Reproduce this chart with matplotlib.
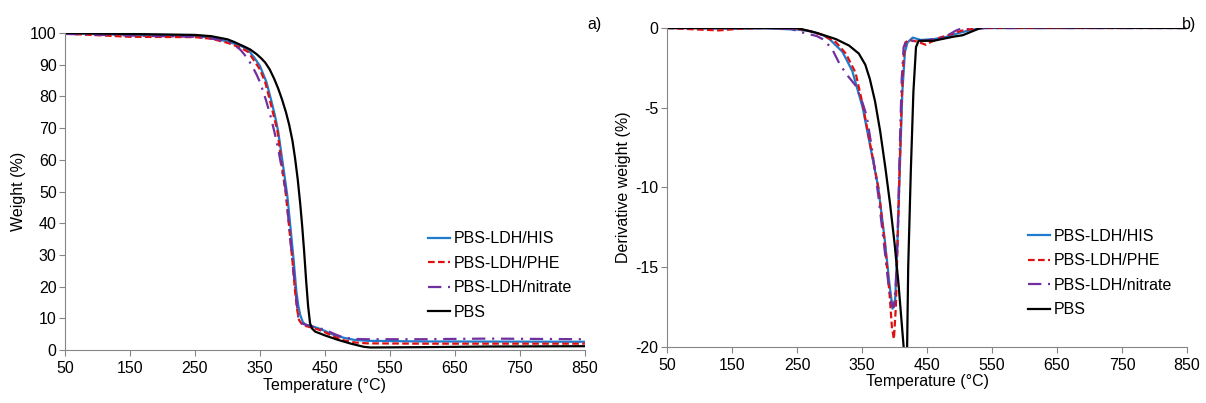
import matplotlib
matplotlib.use("Agg")
from matplotlib import pyplot as plt

plt.rcParams['font.family'] = ['Liberation Sans', 'DejaVu Sans']
plt.rcParams['axes.unicode_minus'] = False

# 图例名称
labels = ["PBS-LDH/HIS", "PBS-LDH/PHE", "PBS-LDH/nitrate", "PBS"]
colors = ["#1f7bcc", "#e01010", "#7030a0", "#000000"]
styles = ["-", (0, (3, 1.5)), (0, (6, 3, 1, 3)), "-"]

# a) TGA 曲线 (温度, 重量%)
tga_his_t = [50, 150, 250, 275, 300, 320, 332, 342, 350, 360, 367, 373, 378, 385, 392, 397, 402, 406, 409, 412, 416, 420, 438, 450, 462, 480, 495, 515, 600, 850]
tga_his_w = [99.9, 99.4, 99.0, 98.6, 97.3, 96.0, 94.7, 92.0, 89.6, 84.5, 79.0, 74.0, 69.0, 59.0, 48.8, 38.6, 28.0, 18.5, 14.0, 11.0, 8.8, 8.0, 7.0, 6.0, 4.9, 3.8, 3.2, 2.9, 2.7, 2.6]

tga_phe_t = [50, 150, 250, 275, 300, 320, 332, 342, 350, 358, 365, 371, 377, 383, 390, 395, 400, 404, 407, 410, 414, 420, 438, 450, 462, 480, 495, 515, 600, 850]
tga_phe_w = [99.8, 98.8, 98.7, 98.2, 96.9, 95.4, 94.0, 91.0, 88.5, 84.5, 79.0, 74.0, 69.0, 59.0, 48.8, 38.6, 28.0, 18.5, 13.0, 9.5, 8.3, 7.6, 6.6, 5.6, 4.4, 3.0, 2.4, 2.1, 2.0, 2.0]

tga_nit_t = [50, 150, 250, 275, 290, 303, 312, 320, 330, 338, 345, 350, 359, 366, 372, 378, 382, 386, 390, 393, 396, 400, 405, 409, 413, 420, 435, 450, 465, 479, 495, 515, 600, 700, 850]
tga_nit_w = [99.7, 99.2, 98.8, 98.2, 97.8, 97.2, 96.0, 94.7, 92.2, 89.6, 86.8, 84.5, 79.0, 74.0, 69.0, 63.5, 59.0, 54.5, 50.0, 43.0, 36.5, 28.0, 18.0, 10.0, 8.5, 8.0, 7.2, 6.4, 5.0, 3.9, 3.5, 3.4, 3.4, 3.6, 3.4]

tga_pbs_t = [50, 150, 250, 275, 300, 310, 325, 335, 345, 352, 358, 365, 372, 378, 384, 390, 395, 400, 404, 408, 412, 415, 418, 421, 424, 427, 430, 435, 450, 470, 490, 510, 520, 600, 700, 850]
tga_pbs_w = [100.0, 99.7, 99.4, 99.0, 98.0, 97.2, 95.8, 94.8, 93.3, 92.0, 90.7, 88.5, 85.5, 82.5, 79.0, 75.0, 71.0, 66.0, 60.5, 54.0, 46.0, 39.0, 31.0, 22.0, 14.0, 8.5, 6.8, 5.8, 4.6, 3.2, 2.0, 1.0, 0.8, 0.9, 1.1, 1.2]

# b) DTG 曲线 (温度, 导数重量%)
dtg_his_t = [50, 100, 150, 200, 250, 270, 290, 300, 320, 335, 351, 363, 375, 385, 392, 397, 401, 404, 408, 412, 416, 420, 428, 440, 460, 480, 500, 520, 540, 850]
dtg_his_d = [0, -0.02, -0.05, -0.02, -0.1, -0.2, -0.45, -0.7, -1.5, -2.7, -5.0, -7.5, -10.0, -13.3, -16.0, -17.6, -17.0, -14.0, -9.0, -4.0, -1.5, -0.9, -0.6, -0.75, -0.7, -0.55, -0.3, -0.1, 0, 0]

dtg_phe_t = [50, 100, 130, 160, 200, 250, 270, 290, 310, 325, 340, 351, 363, 375, 385, 392, 396, 399, 402, 405, 408, 411, 414, 417, 422, 435, 448, 455, 470, 490, 505, 520, 540, 850]
dtg_phe_d = [0, -0.1, -0.15, -0.05, 0, -0.05, -0.2, -0.45, -0.9, -1.6, -2.8, -4.8, -7.4, -10.0, -13.5, -16.5, -18.8, -19.5, -17.5, -13.0, -8.5, -4.5, -1.8, -0.9, -0.75, -0.85, -1.05, -0.9, -0.6, -0.35, -0.15, -0.05, 0, 0]

dtg_nit_t = [50, 200, 240, 260, 280, 292, 305, 316, 328, 340, 350, 357, 365, 375, 385, 391, 396, 399, 402, 405, 408, 411, 414, 418, 425, 435, 445, 460, 480, 495, 505, 520, 850]
dtg_nit_d = [0, 0, -0.05, -0.3, -0.5, -0.75, -1.4, -2.3, -3.0, -3.6, -4.6, -5.5, -7.5, -10.5, -14.0, -16.2, -17.4, -17.5, -16.0, -12.5, -7.5, -3.2, -1.2, -0.8, -0.8, -0.85, -0.8, -0.7, -0.5, -0.15, 0, 0, 0]

dtg_pbs_t = [50, 250, 280, 310, 330, 345, 355, 362, 370, 378, 386, 393, 400, 406, 411, 416, 419, 421, 425, 429, 433, 437, 460, 490, 505, 520, 535, 600, 850]
dtg_pbs_d = [0, 0, -0.3, -0.7, -1.1, -1.6, -2.3, -3.2, -4.6, -6.5, -8.8, -11.0, -13.5, -16.0, -18.5, -21.0, -21.0, -15.0, -9.0, -4.0, -1.2, -0.8, -0.8, -0.55, -0.45, -0.2, 0.05, 0.05, 0]

xticks = [50, 150, 250, 350, 450, 550, 650, 750, 850]
fs = 11.5

fig = plt.figure(figsize=(12.06, 4.03), dpi=100)
ax1 = fig.add_axes([0.0539, 0.1315, 0.4311, 0.7866])
ax2 = fig.add_axes([0.5531, 0.139, 0.4312, 0.7915])

tga = [(tga_his_t, tga_his_w), (tga_phe_t, tga_phe_w), (tga_nit_t, tga_nit_w), (tga_pbs_t, tga_pbs_w)]
dtg = [(dtg_his_t, dtg_his_d), (dtg_phe_t, dtg_phe_d), (dtg_nit_t, dtg_nit_d), (dtg_pbs_t, dtg_pbs_d)]

for (t, w), lab, c, ls in zip(tga, labels, colors, styles):
    ax1.plot(t, w, color=c, linestyle=ls, linewidth=1.6, label=lab)
for (t, d), lab, c, ls in zip(dtg, labels, colors, styles):
    ax2.plot(t, d, color=c, linestyle=ls, linewidth=1.6, label=lab)

ax1.set_xlim(50, 850)
ax1.set_ylim(0, 100)
ax1.set_yticks(range(0, 101, 10))
ax1.set_ylabel("Weight (%)", fontsize=fs, labelpad=3)

ax2.set_xlim(50, 850)
ax2.set_ylim(-20, 0)
ax2.set_yticks([-20, -15, -10, -5, 0])
ax2.set_ylabel("Derivative weight (%)", fontsize=fs, labelpad=3)

for ax in (ax1, ax2):
    ax.set_xticks(xticks)
    ax.set_xlabel("Temperature (°C)", fontsize=fs, labelpad=1)
    ax.spines['top'].set_visible(False)
    ax.spines['right'].set_visible(False)
    ax.spines['left'].set_color('#868686')
    ax.spines['bottom'].set_color('#868686')
    ax.tick_params(axis='both', labelsize=fs, color='#868686', length=4, width=0.8, pad=2)
    ax.tick_params(axis='x', pad=4)

ax1.legend(loc='center left', bbox_to_anchor=(0.698, 0.235), frameon=False, fontsize=fs,
           handlelength=1.4, handletextpad=0.2, labelspacing=0.6, borderaxespad=0, borderpad=0)
ax2.legend(loc='center left', bbox_to_anchor=(0.694, 0.232), frameon=False, fontsize=fs,
           handlelength=1.4, handletextpad=0.2, labelspacing=0.6, borderaxespad=0, borderpad=0)

fig.text(0.4867, 0.94, "a)", fontsize=fs, va='center')
fig.text(0.980, 0.94, "b)", fontsize=fs, va='center')

fig.savefig("out.png", dpi=100)
